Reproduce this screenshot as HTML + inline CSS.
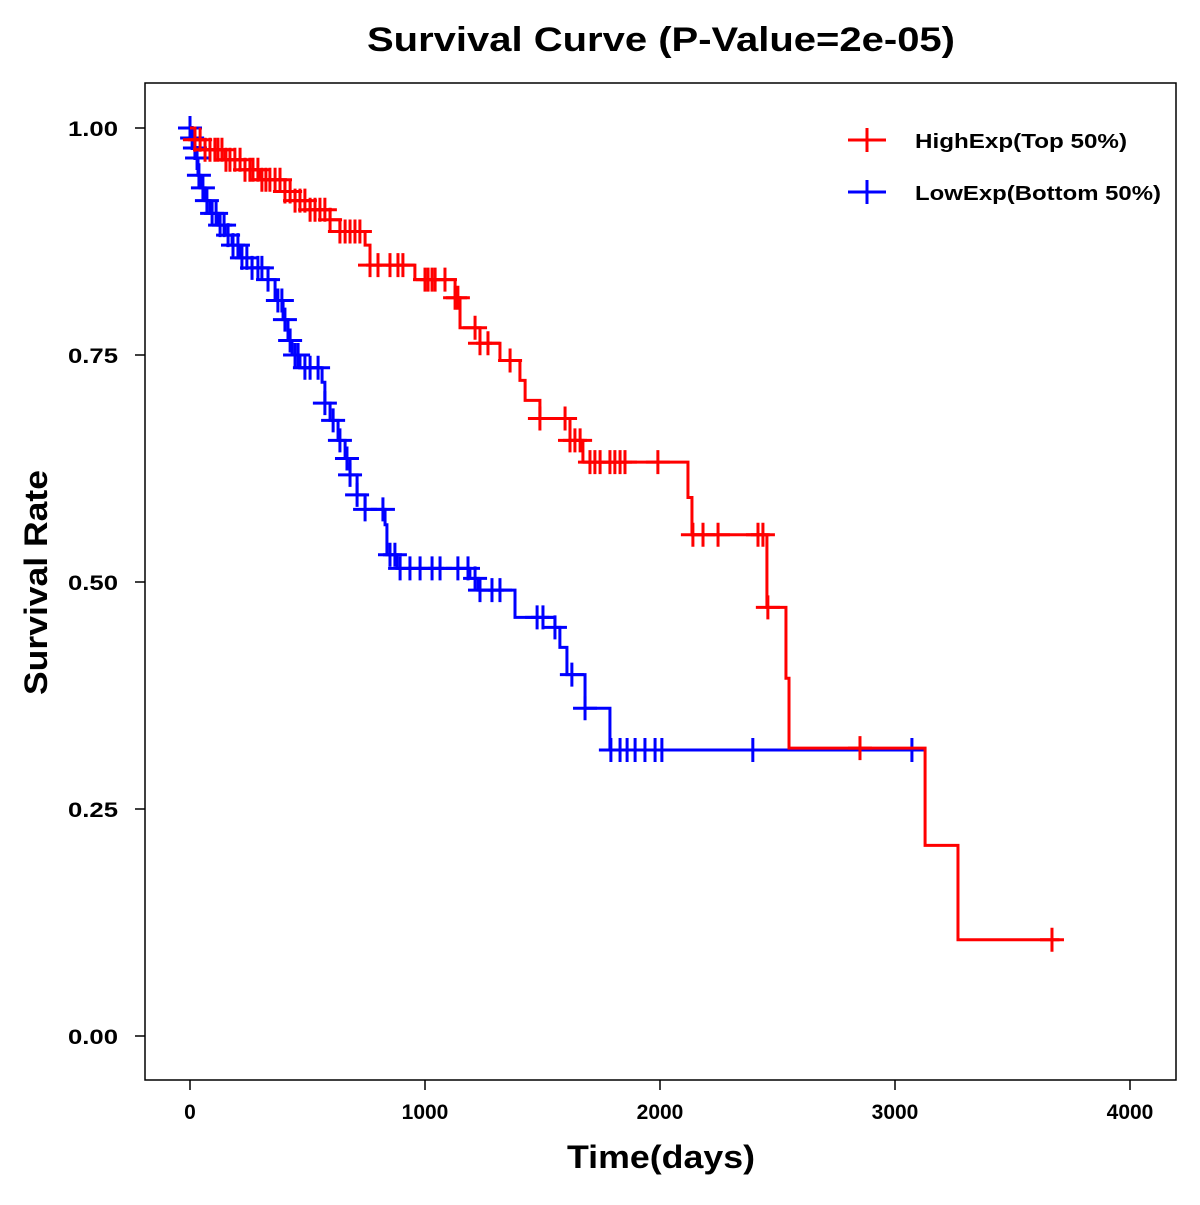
<!DOCTYPE html>
<html><head><meta charset="utf-8"><style>
body{margin:0;background:#fff}
svg text{font-family:"Liberation Sans",Arial,sans-serif;font-weight:bold;fill:#000}
</style></head><body>
<svg id="chart" width="1200" height="1200" viewBox="0 0 1200 1200" xmlns="http://www.w3.org/2000/svg">
<rect width="1200" height="1200" fill="#fff"/>
<text x="367" y="51" font-size="34" textLength="588" lengthAdjust="spacingAndGlyphs">Survival Curve (P-Value=2e-05)</text>
<rect x="145" y="83" width="1031" height="997" fill="none" stroke="#000" stroke-width="1.5"/>
<g id="axes"></g>
<g id="series"></g>
<text x="567" y="1168" font-size="32" textLength="188" lengthAdjust="spacingAndGlyphs">Time(days)</text>
<text transform="translate(47,695) rotate(-90)" font-size="32" textLength="225" lengthAdjust="spacingAndGlyphs">Survival Rate</text>
<g>
<g>
<line x1="848" y1="140" x2="886" y2="140" stroke="#ff0000" stroke-width="3"/><line x1="867" y1="128" x2="867" y2="152" stroke="#ff0000" stroke-width="3"/>
<text x="915" y="148" font-size="20" textLength="212" lengthAdjust="spacingAndGlyphs">HighExp(Top 50%)</text></g>
<g>
<line x1="848" y1="192" x2="886" y2="192" stroke="#0000ff" stroke-width="3"/><line x1="867" y1="180" x2="867" y2="204" stroke="#0000ff" stroke-width="3"/>
<text x="915" y="200" font-size="20" textLength="246" lengthAdjust="spacingAndGlyphs">LowExp(Bottom 50%)</text></g>
</g>
</svg>
<script>
const xTicks=[0,1000,2000,3000,4000];
const yTicks=[0,0.25,0.5,0.75,1.0];
const yTickLabels=["0.00","0.25","0.50","0.75","1.00"];
const highTimes=[21,64,149,234,298,404,447,511,596,638,745,766,957,1128,1149,1234,1319,1404,1426,1489,1617,1672,2119,2136,2455,2536,2549,3128,3268];
const highSurv=[0.987,0.976,0.965,0.954,0.943,0.93,0.92,0.91,0.899,0.886,0.871,0.849,0.833,0.813,0.78,0.763,0.744,0.722,0.70,0.68,0.656,0.632,0.593,0.552,0.472,0.394,0.317,0.21,0.106];
const highEnd=3700;
const highCensor=[21,43,64,85,106,119,136,153,170,191,213,234,255,268,289,306,323,340,362,383,404,426,447,468,489,511,532,553,574,596,638,660,681,702,723,766,800,851,885,906,1000,1013,1030,1043,1085,1128,1140,1213,1234,1268,1362,1489,1596,1617,1638,1660,1702,1723,1745,1787,1808,1830,1851,1991,2140,2183,2247,2417,2438,2459,2851,3668];
const lowTimes=[9,17,26,34,43,64,85,119,149,179,213,264,332,362,396,417,434,468,562,574,596,630,660,681,711,745,830,838,881,1191,1226,1383,1553,1574,1604,1681,1787];
const lowSurv=[0.989,0.978,0.967,0.948,0.934,0.92,0.906,0.893,0.882,0.871,0.857,0.846,0.833,0.81,0.789,0.766,0.75,0.736,0.72,0.697,0.678,0.656,0.636,0.618,0.596,0.58,0.563,0.53,0.515,0.504,0.491,0.461,0.45,0.428,0.398,0.361,0.315];
const lowEnd=3120;
const lowCensor=[0,9,21,30,38,55,72,94,111,128,145,162,183,204,221,242,264,289,306,332,374,391,404,426,447,460,489,511,545,574,609,638,668,681,711,745,821,851,872,894,936,979,1030,1064,1140,1183,1213,1234,1285,1319,1477,1502,1553,1625,1681,1791,1830,1860,1894,1936,1979,2008,2395,3072];

const NS="http://www.w3.org/2000/svg";
const xS=t=>190+t*0.235;
const yS=s=>1036-s*908;
function mk(tag,attrs,parent){const e=document.createElementNS(NS,tag);for(const k in attrs)e.setAttribute(k,attrs[k]);parent.appendChild(e);return e;}
const axes=document.getElementById('axes');
xTicks.forEach(v=>{
  const l=mk('line',{x1:xS(v),x2:xS(v),y1:1080,y2:1090,stroke:'#000','stroke-width':1.5},axes);
  
  
  const t=mk('text',{x:xS(v),y:1119,'font-size':21,'text-anchor':'middle'},axes);t.textContent=v;
  
  
});
yTicks.forEach((v,i)=>{
  const l=mk('line',{x1:135,x2:145,y1:yS(v),y2:yS(v),stroke:'#000','stroke-width':1.5},axes);
  
  
  const t=mk('text',{x:68,y:yS(v)+8,'font-size':21,textLength:50,lengthAdjust:'spacingAndGlyphs'},axes);t.textContent=yTickLabels[i];
  
  
});
function survAt(times,surv,t){let s=1;for(let i=0;i<times.length;i++){if(times[i]<=t)s=surv[i];}return s;}
const series=document.getElementById('series');
function draw(times,surv,end,censor,color,name){
  const g=mk('g',{},series);
  
  
  let d='M'+xS(0)+','+yS(1);
  times.forEach((t,i)=>{d+=' H'+xS(t)+' V'+yS(surv[i]);});
  d+=' H'+xS(end);
  const p=mk('path',{d:d,fill:'none',stroke:color,'stroke-width':3},g);
  
  
  censor.forEach(t=>{
    const sv=survAt(times,surv,t);const cx=xS(t),cy=yS(sv);
    const c=mk('path',{d:`M${cx-12},${cy} H${cx+12} M${cx},${cy-12} V${cy+12}`,stroke:color,'stroke-width':3,fill:'none'},g);
    
    
  });
}
draw(lowTimes,lowSurv,lowEnd,lowCensor,'#0000ff','low-exp');
draw(highTimes,highSurv,highEnd,highCensor,'#ff0000','high-exp');
</script>
</body></html>
